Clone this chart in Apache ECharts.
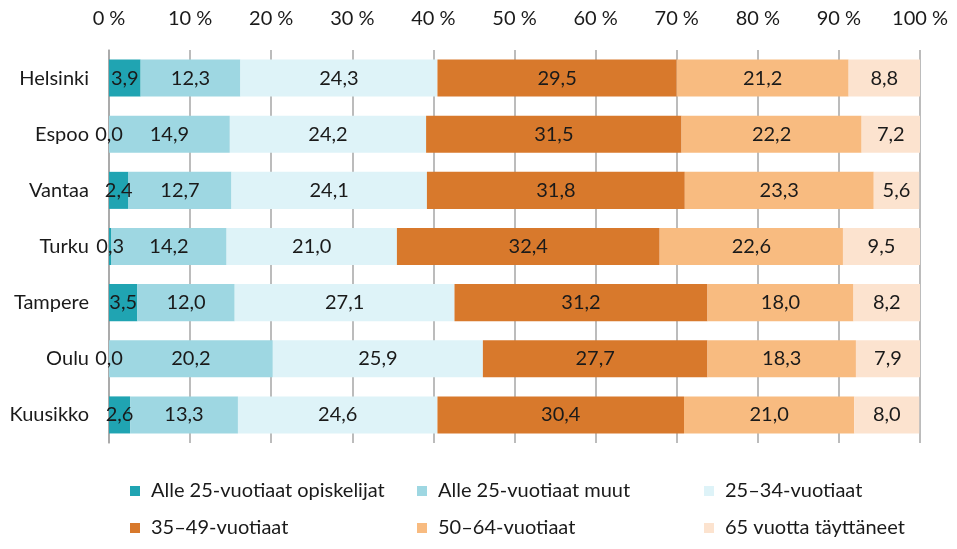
<!DOCTYPE html>
<html>
<head>
<meta charset="utf-8">
<script src="https://cdn.jsdelivr.net/npm/echarts@6/dist/echarts.min.js"></script>
<style>
  html, body { margin: 0; padding: 0; background: #fff; }
  #chart { width: 957px; height: 549px; }
</style>
</head>
<body>
<div id="chart"></div>
<script>
const cities = ['Helsinki', 'Espoo', 'Vantaa', 'Turku', 'Tampere', 'Oulu', 'Kuusikko']

const groupNames = [
  'Alle 25-vuotiaat opiskelijat',
  'Alle 25-vuotiaat muut',
  '25–34-vuotiaat',
  '35–49-vuotiaat',
  '50–64-vuotiaat',
  '65 vuotta täyttäneet'
]

const under25Students = [3.9, 0.0, 2.4, 0.3, 3.5, 0.0, 2.6]
const under25Other = [12.3, 14.9, 12.7, 14.2, 12.0, 20.2, 13.3]
const age25to34 = [24.3, 24.2, 24.1, 21.0, 27.1, 25.9, 24.6]
const age35to49 = [29.5, 31.5, 31.8, 32.4, 31.2, 27.7, 30.4]
const age50to64 = [21.2, 22.2, 23.3, 22.6, 18.0, 18.3, 21.0]
const age65plus = [8.8, 7.2, 5.6, 9.5, 8.2, 7.9, 8.0]

const colors = ['#20A4B2', '#9ED7E2', '#DEF3F8', '#D8792C', '#F8BB80', '#FCE3CF']
const values = [under25Students, under25Other, age25to34, age35to49, age50to64, age65plus]

const font = 'Lato, "Open Sans", sans-serif'
const textColor = '#1a1a1a'
const fontSize = 20

const chart = echarts.init(document.getElementById('chart'))

// one legend per item so the columns line up like the original
const legendCols = [125, 412, 699]
const legendRows = [476, 513]
const legends = groupNames.map((name, i) => ({
  left: legendCols[i % 3],
  top: legendRows[Math.floor(i / 3)],
  itemWidth: 10,
  itemHeight: 10,
  icon: 'rect',
  selectedMode: false,
  data: [name],
  textStyle: { fontFamily: font, fontSize: 20, color: textColor, padding: [0, 0, 0, 6] }
}))

chart.setOption({
  animation: false,
  grid: { left: 109, right: 37, top: 50, bottom: 106, containLabel: false },
  legend: legends,
  xAxis: {
    type: 'value',
    position: 'top',
    min: 0,
    max: 100,
    interval: 10,
    axisLine: { show: false },
    axisTick: { show: false },
    axisLabel: {
      formatter: '{value} %',
      fontFamily: font,
      fontSize: fontSize,
      color: textColor,
      margin: 21
    },
    splitLine: { show: true, lineStyle: { color: '#A6A6A6', width: 1.5 } }
  },
  yAxis: {
    type: 'category',
    inverse: true,
    data: cities,
    axisLine: { show: true, lineStyle: { color: '#A6A6A6', width: 1.5 } },
    axisTick: { show: false },
    axisLabel: {
      fontFamily: font,
      fontSize: fontSize,
      color: textColor,
      margin: 20
    }
  },
  series: groupNames.map((name, i) => ({
    name,
    type: 'bar',
    stack: 'total',
    barCategoryGap: '34%',
    data: values[i],
    itemStyle: { color: colors[i] },
    label: {
      show: true,
      position: 'inside',
      fontFamily: font,
      fontSize: fontSize,
      color: textColor,
      formatter: (p) => p.value.toFixed(1).replace('.', ',')
    }
  }))
})
</script>
</body>
</html>
